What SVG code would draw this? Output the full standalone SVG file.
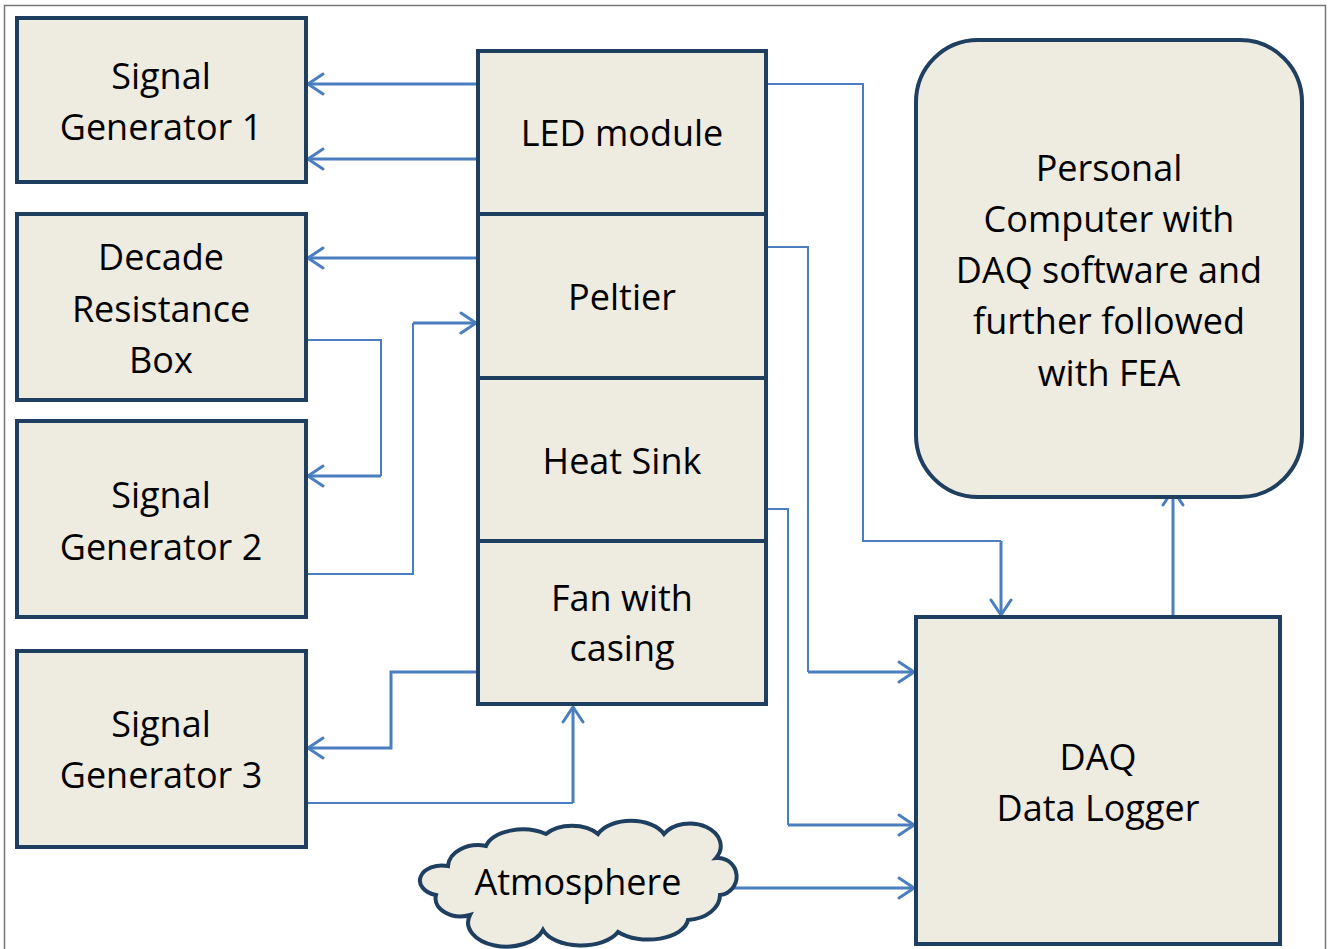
<svg xmlns="http://www.w3.org/2000/svg" width="1329" height="949" viewBox="0 0 1329 949">
<style>
.box{fill:#EEEBE0;stroke:#1F3F60;stroke-width:4}
.t{font-family:"Open Sans","Noto Sans",sans-serif;font-size:36px;fill:#000;text-anchor:middle}
.c{fill:none;stroke:#4A7EBF;stroke-width:2}
.a{fill:none;stroke:#4A7EBF;stroke-width:3}
</style>
<defs>
<marker id="ah" markerUnits="userSpaceOnUse" markerWidth="20" markerHeight="24" refX="17" refY="12" orient="auto" viewBox="0 0 20 24">
<path d="M2,2 L17,12 L2,22" fill="none" stroke="#4A7EBF" stroke-width="3" stroke-linecap="round" stroke-linejoin="round"/>
</marker>
</defs>
<rect x="4.5" y="5.5" width="1321" height="950" fill="#fff" stroke="#777" stroke-width="1.5"/>

<g id="connectors">
<path class="a" d="M478,84 H308" marker-end="url(#ah)"/>
<path class="a" d="M478,159 H308" marker-end="url(#ah)"/>
<path class="a" d="M478,258 H308" marker-end="url(#ah)"/>
<path class="c" d="M306,268 V340 H381 V476"/>
<path class="a" d="M381,476 H308" marker-end="url(#ah)"/>
<path class="c" d="M306,574 H413 V323"/>
<path class="a" d="M413,323 H476" marker-end="url(#ah)"/>
<path class="a" d="M478,672 H391 V748 H308" marker-end="url(#ah)"/>
<path class="c" d="M306,803 H573"/>
<path class="a" d="M573,803 V707" marker-end="url(#ah)"/>
<path class="c" d="M766,84 H863 V541 H1001"/>
<path class="a" d="M1001,541 V615" marker-end="url(#ah)"/>
<path class="c" d="M766,247 H808 V672"/>
<path class="a" d="M808,672 H914" marker-end="url(#ah)"/>
<path class="c" d="M766,509 H788 V825"/>
<path class="a" d="M788,825 H914" marker-end="url(#ah)"/>
<path class="a" d="M730,888 H914" marker-end="url(#ah)"/>
<path class="a" d="M1173,617 V490" marker-end="url(#ah)"/>
</g>

<g id="sg1">
<rect class="box" x="17" y="18" width="289" height="164"/>
<text class="t" x="161" y="89">Signal</text>
<text class="t" x="161" y="140">Generator 1</text>
</g>
<g id="drb">
<rect class="box" x="17" y="214" width="289" height="186"/>
<text class="t" x="161" y="270">Decade</text>
<text class="t" x="161" y="322">Resistance</text>
<text class="t" x="161" y="373">Box</text>
</g>
<g id="sg2">
<rect class="box" x="17" y="421" width="289" height="196"/>
<text class="t" x="161" y="508">Signal</text>
<text class="t" x="161" y="560">Generator 2</text>
</g>
<g id="sg3">
<rect class="box" x="17" y="651" width="289" height="196"/>
<text class="t" x="161" y="737">Signal</text>
<text class="t" x="161" y="788">Generator 3</text>
</g>
<g id="led">
<rect class="box" x="478" y="51" width="288" height="163"/>
<text class="t" x="622" y="146">LED module</text>
</g>
<g id="peltier">
<rect class="box" x="478" y="214" width="288" height="164"/>
<text class="t" x="622" y="310">Peltier</text>
</g>
<g id="heatsink">
<rect class="box" x="478" y="378" width="288" height="163"/>
<text class="t" x="622" y="474">Heat Sink</text>
</g>
<g id="fan">
<rect class="box" x="478" y="541" width="288" height="163"/>
<text class="t" x="622" y="611">Fan with</text>
<text class="t" x="622" y="661">casing</text>
</g>
<g id="pc">
<rect class="box" x="916" y="40" width="386" height="457" rx="62" ry="62"/>
<text class="t" x="1109" y="181">Personal</text>
<text class="t" x="1109" y="232">Computer with</text>
<text class="t" x="1109" y="283">DAQ software and</text>
<text class="t" x="1109" y="334">further followed</text>
<text class="t" x="1109" y="386">with FEA</text>
</g>
<g id="daq">
<rect class="box" x="916" y="617" width="364" height="327"/>
<text class="t" x="1098" y="770">DAQ</text>
<text class="t" x="1098" y="821">Data Logger</text>
</g>
<g id="atmosphere">
<path class="box" stroke-width="3.5" d="M448,866 A30,22 0 0 1 486,846 A38,22 0 0 1 546,834 A32,20 0 0 1 598,834 A36,22 0 0 1 664,834 A30,22 0 0 1 716,858 A17,17 0 0 1 720,895 A35,25 0 0 1 688,920 A40,22 0 0 1 618,932 A40,22 0 0 1 543,930 A35,22 0 0 1 470,915 A25,18 0 0 1 436,895 A22,15 0 0 1 448,866 Z"/>
<text class="t" x="578" y="895">Atmosphere</text>
</g>
</svg>
